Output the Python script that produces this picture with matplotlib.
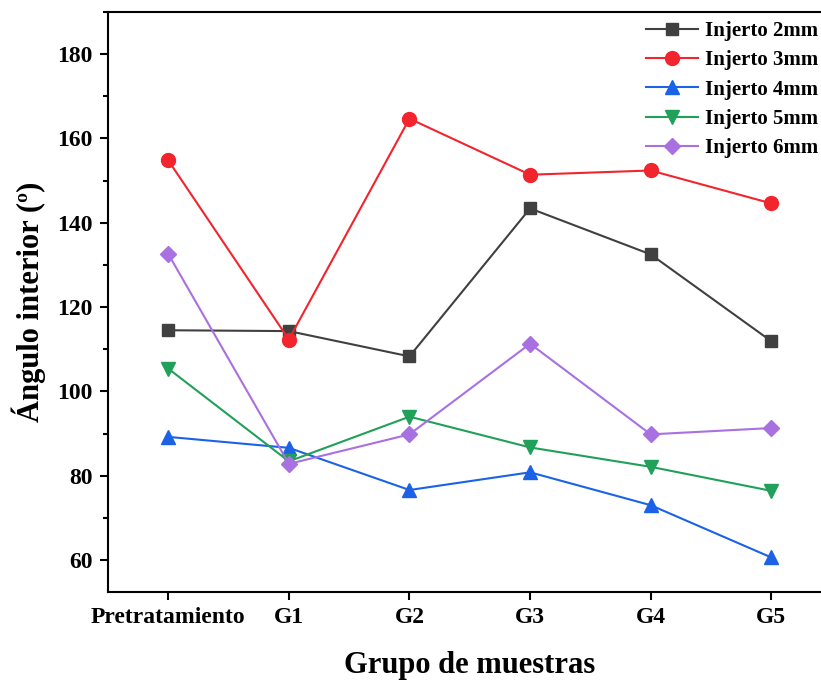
import matplotlib.pyplot as plt
from matplotlib.ticker import MultipleLocator

plt.rcParams['font.family'] = ['Liberation Serif', 'DejaVu Serif']
plt.rcParams['font.weight'] = 'bold'

# Data
groups = ['Pretratamiento', 'G1', 'G2', 'G3', 'G4', 'G5']
injerto_2mm = [114.5, 114.3, 108.3, 143.4, 132.5, 111.9]
injerto_3mm = [154.8, 112.3, 164.7, 151.4, 152.4, 144.6]
injerto_4mm = [89.2, 86.6, 76.6, 80.8, 73.0, 60.6]
injerto_5mm = [105.4, 83.4, 94.0, 86.7, 82.1, 76.4]
injerto_6mm = [132.6, 82.8, 89.8, 111.3, 89.8, 91.3]

series = [
    ('Injerto 2mm', injerto_2mm, '#404040', 's', 8.5),
    ('Injerto 3mm', injerto_3mm, '#f2242d', 'o', 10),
    ('Injerto 4mm', injerto_4mm, '#1c62e6', '^', 10),
    ('Injerto 5mm', injerto_5mm, '#21a05a', 'v', 10),
    ('Injerto 6mm', injerto_6mm, '#a870e0', 'D', 8.5),
]

fig = plt.figure(figsize=(8.21, 6.86), dpi=100)
ax = fig.add_axes([0.1315, 0.137, 0.8814, 0.8455])

x = range(len(groups))
for label, values, color, marker, ms in series:
    ax.plot(x, values, color=color, marker=marker, markersize=ms,
            linewidth=1.5, label=label)

ax.set_xlim(-0.5, 5.5)
ax.set_ylim(52.4, 190)
ax.set_xticks(list(x))
ax.set_xticklabels(groups)
ax.yaxis.set_major_locator(MultipleLocator(20))
ax.yaxis.set_minor_locator(MultipleLocator(10))

for side in ['left', 'bottom', 'top', 'right']:
    ax.spines[side].set_linewidth(1.5)
ax.tick_params(axis='both', which='major', direction='out', length=6,
               width=1.5, labelsize=17, pad=5)
ax.tick_params(axis='y', which='minor', direction='out', length=3.5, width=1.5)

ax.set_xlabel('Grupo de muestras', fontsize=22, fontweight='bold', labelpad=16)
ax.set_ylabel('Ángulo interior (º)', fontsize=22, fontweight='bold', labelpad=8)

ax.legend(loc='upper left', bbox_to_anchor=(646 / 821, 1 - 21 / 686),
          bbox_transform=fig.transFigure, frameon=False,
          fontsize=15, handlelength=2.5, handletextpad=0.35,
          labelspacing=0.45, borderpad=0, borderaxespad=0)

fig.savefig('out.png', dpi=100)
